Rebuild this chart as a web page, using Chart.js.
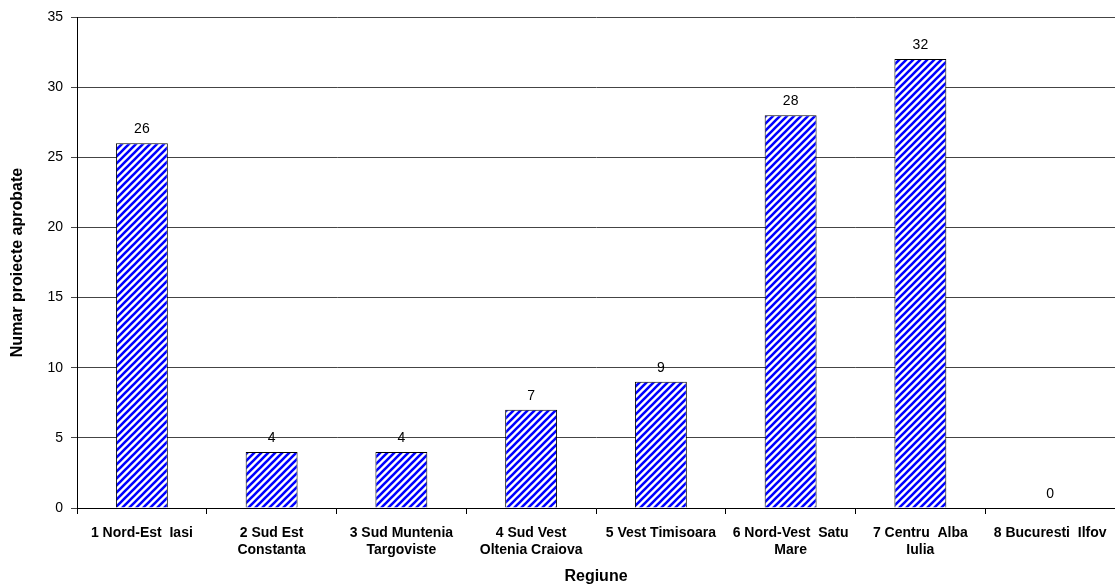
<!DOCTYPE html>
<html>
<head>
<meta charset="utf-8">
<script src="https://cdn.jsdelivr.net/npm/chart.js@4/dist/chart.umd.min.js"></script>
<style>
    html, body { margin: 0; padding: 0; background: #fff; }
    #wrap { width: 1115px; height: 586px; position: relative; }
</style>
</head>
<body>
<div id="wrap"><canvas id="chart"></canvas></div>
<script>
const regions = [
    ['1 Nord-Est  Iasi'],
    ['2 Sud Est', 'Constanta'],
    ['3 Sud Muntenia', 'Targoviste'],
    ['4 Sud Vest', 'Oltenia Craiova'],
    ['5 Vest Timisoara'],
    ['6 Nord-Vest  Satu', 'Mare'],
    ['7 Centru  Alba', 'Iulia'],
    ['8 Bucuresti  Ilfov']
];
const approvedProjects = [26, 4, 4, 7, 9, 28, 32, 0];
const yTicks = [0, 5, 10, 15, 20, 25, 30, 35];

const FONT = '"Liberation Sans", Arial, sans-serif';

// Blue diagonal hatch like the Excel fill
function makeHatch() {
    const size = 7;
    const c = document.createElement('canvas');
    c.width = size;
    c.height = size;
    const g = c.getContext('2d');
    g.fillStyle = '#ffffff';
    g.fillRect(0, 0, size, size);
    g.strokeStyle = '#0000ff';
    g.lineWidth = 2.6;
    g.beginPath();
    g.moveTo(-1, size + 1);
    g.lineTo(size + 1, -1);
    g.moveTo(-1, 1);
    g.lineTo(1, -1);
    g.moveTo(size - 1, size + 1);
    g.lineTo(size + 1, size - 1);
    g.stroke();
    return g.createPattern(c, 'repeat');
}

const valueLabels = {
    id: 'valueLabels',
    afterDatasetsDraw(chart) {
        const ctx = chart.ctx;
        const meta = chart.getDatasetMeta(0);
        ctx.save();
        ctx.font = '14px ' + FONT;
        ctx.fillStyle = '#000';
        ctx.textAlign = 'center';
        ctx.textBaseline = 'bottom';
        meta.data.forEach((bar, i) => {
            ctx.fillText(String(approvedProjects[i]), bar.x, bar.y - 7);
        });
        ctx.restore();
    }
};

new Chart(document.getElementById('chart'), {
    type: 'bar',
    data: {
        labels: regions,
        datasets: [{
            data: approvedProjects,
            backgroundColor: makeHatch(),
            borderColor: '#000',
            borderWidth: 1,
            borderSkipped: 'bottom',
            categoryPercentage: 1,
            barPercentage: 0.4
        }]
    },
    options: {
        responsive: true,
        maintainAspectRatio: false,
        animation: false,
        layout: { padding: { top: 17, left: 0, right: 0, bottom: 0 } },
        plugins: {
            legend: { display: false },
            tooltip: { enabled: false }
        },
        scales: {
            x: {
                afterFit: s => {
                    s.height = 78;
                    // plot runs to the right edge, like the original
                    s.paddingRight = 0;
                    s.paddingLeft = 0;
                },
                grid: {
                    offset: true,
                    drawOnChartArea: false,
                    drawTicks: true,
                    tickLength: 6,
                    color: '#000'
                },
                border: { color: '#000', width: 1 },
                ticks: {
                    autoSkip: false,
                    maxRotation: 0,
                    padding: 11,
                    color: '#000',
                    font: { family: FONT, size: 14, weight: 'bold', lineHeight: 1.2 }
                },
                title: {
                    display: true,
                    text: 'Regiune',
                    color: '#000',
                    padding: { top: 4, bottom: 0 },
                    font: { family: FONT, size: 16, weight: 'bold' }
                }
            },
            y: {
                min: 0,
                max: 35,
                afterFit: s => { s.width = 77; },
                afterBuildTicks: s => { s.ticks = yTicks.map(v => ({ value: v })); },
                grid: {
                    color: '#444',
                    drawTicks: true,
                    tickLength: 6
                },
                border: { color: '#000', width: 1 },
                ticks: {
                    padding: 8,
                    color: '#000',
                    font: { family: FONT, size: 14 }
                },
                title: {
                    display: true,
                    text: 'Numar proiecte aprobate',
                    color: '#000',
                    padding: { top: 8, bottom: 0 },
                    font: { family: FONT, size: 16, weight: 'bold' }
                }
            }
        }
    },
    plugins: [valueLabels]
});
</script>
</body>
</html>
